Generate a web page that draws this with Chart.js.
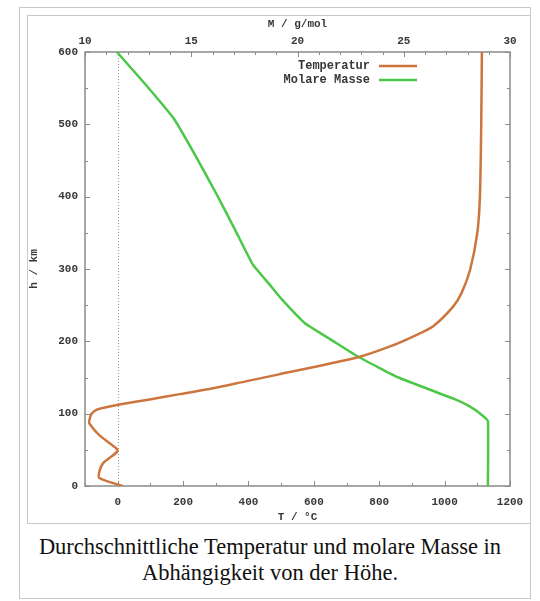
<!DOCTYPE html>
<html lang="de">
<head>
<meta charset="utf-8">
<title>Temperatur und molare Masse</title>
<script src="https://cdn.jsdelivr.net/npm/chart.js@4/dist/chart.umd.min.js"></script>
<style>
  html, body { margin: 0; padding: 0; background: #fff; }
  body { width: 540px; height: 601px; position: relative; overflow: hidden; }
  .outer { position: absolute; left: 19px; top: 7px; width: 510px; height: 590px; border: 1px solid #c8c8c8; }
  .inner { position: absolute; left: 27px; top: 15px; width: 502px; height: 507px; border: 1px solid #c8c8c8; overflow: hidden; }
  #chart { position: absolute; left: 0; top: 0; }
  .caption { position: absolute; left: 19px; top: 534px; width: 502px; text-align: center;
             font-family: "Liberation Serif", "Times New Roman", serif; font-size: 22.5px; line-height: 26px; color: #111; }
</style>
</head>
<body>
<div class="outer"></div>
<div class="inner"><canvas id="chart" width="502" height="507"></canvas></div>
<div class="caption">Durchschnittliche Temperatur und molare Masse in<br>Abhängigkeit von der Höhe.</div>
<script>
// Mittlere Temperatur (°C) über der Höhe (km)
const tempHeights = [0, 11, 20, 32, 47, 51, 71, 86, 90, 100, 106, 110, 113, 119, 127, 135, 145, 154, 178, 193, 207, 221, 248, 267, 299, 350, 400, 500, 600];
const tempValues  = [15, -56, -56, -44, -2, -2, -58, -86, -87, -80, -62, -25, 10, 89, 190, 292, 395, 490, 735, 833, 905, 965, 1026, 1052, 1078, 1100, 1108, 1112, 1114];

// Mittlere molare Masse (g/mol) über der Höhe (km)
const massHeights = [0, 90, 100, 110, 120, 150, 178, 200, 225, 260, 278, 306, 352, 403, 454, 507, 555, 600];
const massValues  = [28.96, 28.96, 28.6, 28.1, 27.4, 24.75, 22.9, 21.7, 20.35, 19.2, 18.7, 17.9, 17.1, 16.2, 15.25, 14.2, 12.85, 11.5];

// Achsenbeschriftungen
const tempTicks   = [0, 200, 400, 600, 800, 1000, 1200];
const massTicks   = [10, 15, 20, 25, 30];
const heightTicks = [0, 100, 200, 300, 400, 500, 600];

const seriesLabels = ['Temperatur', 'Molare Masse'];
const seriesColors = ['rgb(204,118,62)', 'rgb(76,200,72)'];

const tickFont  = { family: '"Liberation Mono", "DejaVu Sans Mono", monospace', size: 11, weight: 'bold' };
const titleFont = { family: '"Liberation Mono", "DejaVu Sans Mono", monospace', size: 11, weight: 'bold', lineHeight: 1.1 };
const textColor = '#383838';

function fixedTicks(list) {
  return scale => { scale.ticks = list.map(v => ({ value: v })); };
}
const plainNumber = v => String(v);

// Rahmen, nach innen zeigende Striche, Nulllinie und Legende
const gnuplotFrame = {
  id: 'gnuplotFrame',
  beforeDatasetsDraw(chart) {
    const { ctx, chartArea: a, scales } = chart;
    ctx.save();
    // gepunktete Linie bei T = 0
    const x0 = Math.round(scales.x.getPixelForValue(0)) + 0.5;
    ctx.strokeStyle = '#9a9a9a';
    ctx.lineWidth = 1;
    ctx.setLineDash([1, 2]);
    ctx.beginPath();
    ctx.moveTo(x0, a.top);
    ctx.lineTo(x0, a.bottom);
    ctx.stroke();
    ctx.setLineDash([]);

    ctx.strokeStyle = '#8a8a8a';
    ctx.lineWidth = 1;
    const tick = (x1, y1, x2, y2) => { ctx.beginPath(); ctx.moveTo(x1, y1); ctx.lineTo(x2, y2); ctx.stroke(); };
    // untere Achse: alle 100 °C
    for (let v = -100; v <= 1200; v += 100) {
      const px = Math.round(scales.x.getPixelForValue(v)) + 0.5;
      const len = v % 200 === 0 ? 5 : 3;
      tick(px, a.bottom, px, a.bottom - len);
    }
    // obere Achse: alle 1 g/mol
    for (let v = 10; v <= 30; v += 1) {
      const px = Math.round(scales.x2.getPixelForValue(v)) + 0.5;
      const len = v % 5 === 0 ? 5 : 3;
      tick(px, a.top, px, a.top + len);
    }
    // linke und rechte Achse: alle 50 km
    for (let v = 0; v <= 600; v += 50) {
      const py = Math.round(scales.y.getPixelForValue(v)) + 0.5;
      const len = v % 100 === 0 ? 5 : 3;
      tick(a.left, py, a.left + len, py);
      tick(a.right, py, a.right - len, py);
    }
    ctx.strokeStyle = '#8a8a8a';
    ctx.lineWidth = 1.5;
    ctx.strokeRect(a.left, a.top, a.right - a.left, a.bottom - a.top);
    ctx.restore();
  },
  afterDatasetsDraw(chart) {
    const { ctx, chartArea: a } = chart;
    ctx.save();
    ctx.font = 'bold 12px "Liberation Mono", "DejaVu Sans Mono", monospace';
    ctx.textAlign = 'right';
    ctx.textBaseline = 'middle';
    const textRight = a.left + 285;
    chart.data.datasets.forEach((ds, i) => {
      const y = a.top + 14 + i * 14;
      ctx.fillStyle = textColor;
      ctx.fillText(ds.label, textRight, y);
      ctx.strokeStyle = ds.borderColor;
      ctx.lineWidth = 2.5;
      ctx.beginPath();
      ctx.moveTo(textRight + 9, y);
      ctx.lineTo(textRight + 47, y);
      ctx.stroke();
    });
    ctx.restore();
  }
};

new Chart(document.getElementById('chart'), {
  type: 'scatter',
  data: {
    datasets: [
      {
        label: seriesLabels[0],
        data: tempHeights.map((h, i) => ({ x: tempValues[i], y: h })),
        xAxisID: 'x', yAxisID: 'y',
        showLine: true, borderColor: seriesColors[0], borderWidth: 2.5,
        pointRadius: 0, tension: 0.25, fill: false
      },
      {
        label: seriesLabels[1],
        data: massHeights.map((h, i) => ({ x: massValues[i], y: h })),
        xAxisID: 'x2', yAxisID: 'y',
        showLine: true, borderColor: seriesColors[1], borderWidth: 2.5,
        pointRadius: 0, tension: 0.1, fill: false
      }
    ]
  },
  options: {
    responsive: false,
    animation: false,
    events: [],
    layout: { padding: { left: 0, right: 20, top: 0, bottom: 0 } },
    plugins: { legend: { display: false }, tooltip: { enabled: false } },
    scales: {
      x: {
        type: 'linear', position: 'bottom', min: -100, max: 1200,
        afterBuildTicks: fixedTicks(tempTicks),
        grid: { display: false, drawTicks: false }, border: { display: false },
        ticks: { font: tickFont, color: textColor, padding: 10, maxRotation: 0, autoSkip: false, callback: plainNumber },
        title: { display: true, text: 'T / °C', font: titleFont, color: textColor, padding: { top: 0, bottom: 0 } },
        afterFit: s => { s.height = 37; s.paddingLeft = 0; s.paddingRight = 0; }
      },
      x2: {
        type: 'linear', position: 'top', min: 10, max: 30,
        afterBuildTicks: fixedTicks(massTicks),
        grid: { display: false, drawTicks: false }, border: { display: false },
        ticks: { font: tickFont, color: textColor, padding: 4, maxRotation: 0, autoSkip: false, callback: plainNumber },
        title: { display: true, text: 'M / g/mol', font: titleFont, color: textColor, padding: { top: 2, bottom: 0 } },
        afterFit: s => { s.height = 36; s.paddingLeft = 0; s.paddingRight = 0; }
      },
      y: {
        type: 'linear', position: 'left', min: 0, max: 600,
        afterBuildTicks: fixedTicks(heightTicks),
        grid: { display: false, drawTicks: false }, border: { display: false },
        ticks: { font: tickFont, color: textColor, padding: 7, autoSkip: false, callback: plainNumber },
        title: { display: true, text: 'h / km', font: titleFont, color: textColor, padding: { top: 0, bottom: 0 } },
        afterFit: s => { s.width = 57; s.paddingTop = 0; s.paddingBottom = 0; }
      }
    }
  },
  plugins: [gnuplotFrame]
});
</script>
</body>
</html>
